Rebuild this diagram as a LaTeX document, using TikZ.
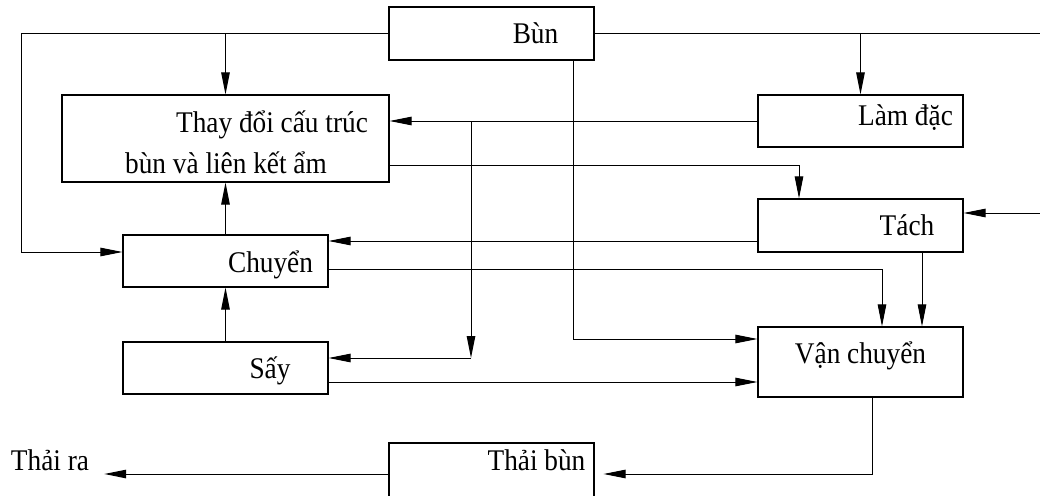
\documentclass[tikz,border=0pt]{standalone}
\usepackage{fontspec}
\setmainfont[FakeStretch=0.91]{Liberation Serif}
\usetikzlibrary{arrows.meta}

\begin{document}
\begin{tikzpicture}[x=1pt,y=-1pt,
    khoi/.style={draw,line width=1.1pt,inner sep=0pt},
    chu/.style={anchor=base,inner sep=0pt,font=\fontsize{30}{36}\selectfont},
    duong/.style={line width=1pt},
    luong/.style={line width=1pt,-{Triangle[length=22pt,width=8.5pt]}}]
    \clip (0,0) rectangle (1040,495);

      %Bùn
      \node[khoi,minimum width=205pt,minimum height=53pt] (bun) at (491.5,33.5) {};
      \node[chu] (tbun) at (535.5,44) {Bùn};

      %Thay đổi cấu trúc
      \node[khoi,minimum width=327pt,minimum height=87pt] (thay) at (225.5,138.5) {};
      \node[chu] (tthay1) at (272,132.5) {Thay đổi cấu trúc};
      \node[chu] (tthay2) at (226,173) {bùn và liên kết ẩm};

      %Làm đặc
      \node[khoi,minimum width=205pt,minimum height=52pt] (lam) at (860.5,121) {};
      \node[chu] (tlam) at (905.5,125) {Làm đặc};

      %Tách
      \node[khoi,minimum width=205pt,minimum height=53pt] (tach) at (860.5,225.5) {};
      \node[chu] (ttach) at (907,235) {Tách};

      %Chuyển
      \node[khoi,minimum width=205pt,minimum height=52pt] (chuyen) at (225.5,261) {};
      \node[chu] (tchuyen) at (270.5,272) {Chuyển};

      %Sấy
      \node[khoi,minimum width=205pt,minimum height=52pt] (say) at (225.5,368) {};
      \node[chu] (tsay) at (270,378) {Sấy};

      %Vận chuyển
      \node[khoi,minimum width=205pt,minimum height=70pt] (van) at (860.5,362) {};
      \node[chu] (tvan) at (860.5,363) {Vận chuyển};

      %Thải bùn
      \node[khoi,minimum width=205pt,minimum height=62pt] (thai) at (491.5,474) {};
      \node[chu] (tthai) at (536.5,470) {Thải bùn};
      \node[chu] (ra) at (50,470) {Thải ra};

      %từ Bùn
      \coordinate (trai) at (21,252);
      \draw[luong] (bun.west) -| (trai) -- ([yshift=9pt]chuyen.west);
      \draw[luong] (bun.west -| thay.north) -- (thay.north);
      \draw[duong] (bun.east) -- (1040,33.5);
      \draw[luong] (bun.east -| lam.north) -- (lam.north);
      \draw[luong] (bun.south -| 573,0) |- ([yshift=23pt]van.west);

      %từ Làm đặc
      \coordinate (nut) at (471,358);
      \draw[luong] (lam.west) -- (lam.west -| thay.east);
      \draw[luong] (lam.west -| nut) -- (nut);
      \draw[luong] (nut) -- (nut -| say.east);

      %từ Thay đổi
      \draw[luong] ([yshift=-27pt]thay.east) -| ([xshift=-61.5pt]tach.north);

      %vào Tách
      \coordinate (vao) at (1040,213);
      \draw[luong] (vao) -- (vao -| tach.east);
      \draw[luong] ([yshift=-15.5pt]tach.west) -- ([yshift=-15.5pt]tach.west -| chuyen.east);
      \draw[luong] ([xshift=61.5pt]tach.south) -- ([xshift=61.5pt]van.north);

      %Chuyển và Sấy
      \draw[luong] (chuyen.north) -- (thay.south);
      \draw[luong] (say.north) -- (chuyen.south);
      \draw[luong] ([yshift=-8pt]chuyen.east) -| ([xshift=21.5pt]van.north);
      \draw[luong] ([yshift=-14pt]say.east) -- ([yshift=-14pt]say.east -| van.west);

      %Thải
      \draw[luong] ([xshift=11.5pt]van.south) |- ([xshift=9pt]thai.east);
      \draw[luong] (thai.west) -- ([xshift=15pt]ra.east |- thai.west);
\end{tikzpicture}
\end{document}
